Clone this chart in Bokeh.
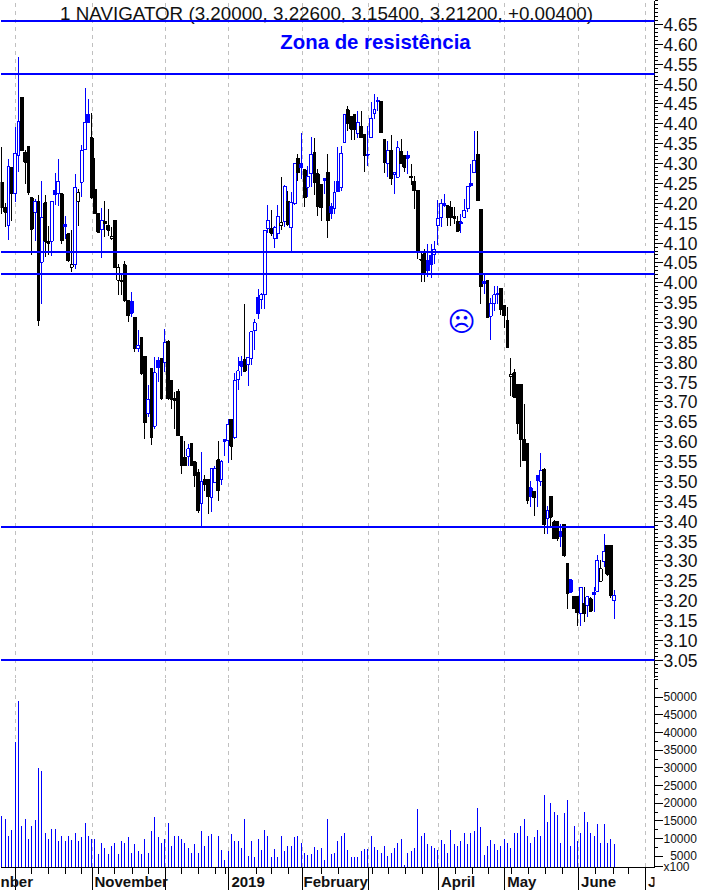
from bokeh.plotting import figure
from bokeh.layouts import column
from bokeh.models import Range1d, FixedTicker, PrintfTickFormatter, Span, Grid, ColumnDataSource
from bokeh.core.properties import value
from bokeh.embed import file_html
from bokeh.resources import INLINE

title_text = "1 NAVIGATOR (3.20000, 3.22600, 3.15400, 3.21200, +0.00400)"
zone_text = "Zona de resistência"

opens = [4.253,4.190,4.144,4.291,4.224,4.320,4.467,4.329,4.343,4.214,
4.178,4.205,4.052,4.201,4.105,4.105,4.232,4.224,4.224,4.147,
4.123,4.039,4.045,4.205,4.253,4.335,4.424,4.365,4.234,4.174,
4.133,4.154,4.144,4.111,4.158,4.007,4.007,4.045,3.955,3.953,
3.912,3.834,3.863,3.815,3.670,3.784,3.639,3.804,3.809,3.800,
3.853,3.754,3.708,3.726,3.613,3.560,3.564,3.595,3.549,3.522,
3.444,3.505,3.505,3.459,3.498,3.554,3.504,3.605,3.603,3.656,
3.610,3.756,3.802,3.807,3.794,3.810,3.879,3.964,3.958,3.970,
4.136,4.136,4.111,4.123,4.143,4.155,4.204,4.138,4.199,4.314,
4.299,4.285,4.241,4.274,4.327,4.274,4.247,4.262,4.277,4.193,
4.188,4.255,4.241,4.354,4.435,4.419,4.423,4.376,4.393,4.372,
4.324,4.365,4.425,4.459,4.456,4.361,4.301,4.333,4.272,4.266,
4.330,4.320,4.320,4.268,4.255,4.232,4.059,4.073,4.056,4.069,
4.070,4.143,4.165,4.199,4.194,4.190,4.167,4.155,4.153,4.165,
4.186,4.250,4.277,4.323,4.184,4.003,4.007,3.916,3.947,3.970,
3.985,3.944,3.905,3.765,3.773,3.743,3.744,3.606,3.595,3.484,
3.475,3.515,3.501,3.530,3.406,3.462,3.398,3.399,3.374,3.391,
3.293,3.252,3.211,3.211,3.167,3.192,3.188,3.205,3.221,3.224,
3.249,3.299,3.340,3.340,3.200]

closes = [4.190,4.178,4.293,4.224,4.325,4.407,4.333,4.304,4.226,4.135,
4.205,3.905,4.165,4.105,4.100,4.205,4.222,4.256,4.106,4.142,
4.056,4.045,4.239,4.226,4.333,4.404,4.404,4.215,4.175,4.127,
4.157,4.148,4.132,4.117,4.039,4.039,4.004,3.955,3.918,3.923,
3.834,3.842,3.771,3.649,3.706,3.610,3.773,3.786,3.708,3.849,
3.708,3.706,3.704,3.616,3.540,3.540,3.582,3.540,3.515,3.427,
3.501,3.492,3.461,3.532,3.532,3.476,3.550,3.601,3.643,3.589,
3.754,3.778,3.790,3.777,3.811,3.877,3.899,3.922,3.970,4.132,
4.157,4.125,4.140,4.167,4.151,4.243,4.147,4.203,4.299,4.278,
4.289,4.214,4.268,4.323,4.253,4.193,4.189,4.258,4.157,4.175,
4.226,4.230,4.326,4.423,4.402,4.387,4.386,4.404,4.366,4.320,
4.321,4.413,4.435,4.456,4.379,4.304,4.333,4.263,4.277,4.340,
4.299,4.291,4.314,4.265,4.232,4.080,4.057,4.023,4.031,4.046,
4.085,4.163,4.199,4.195,4.165,4.165,4.163,4.130,4.148,4.183,
4.243,4.245,4.309,4.207,3.991,3.997,3.913,3.947,3.970,3.972,
3.932,3.918,3.838,3.769,3.712,3.647,3.606,3.553,3.452,3.462,
3.460,3.502,3.528,3.392,3.427,3.410,3.356,3.356,3.362,3.314,
3.217,3.221,3.179,3.169,3.234,3.167,3.210,3.173,3.215,3.301,
3.280,3.324,3.266,3.213,3.212]

highs = [4.341,4.200,4.312,4.291,4.392,4.568,4.467,4.333,4.343,4.214,
4.211,4.221,4.255,4.220,4.142,4.207,4.277,4.312,4.226,4.169,
4.123,4.132,4.274,4.235,4.348,4.491,4.463,4.427,4.314,4.174,
4.189,4.207,4.186,4.140,4.158,4.048,4.023,4.056,3.955,3.978,
3.912,3.880,3.863,3.815,3.742,3.784,3.813,3.813,3.809,3.884,
3.855,3.754,3.725,3.733,3.613,3.603,3.593,3.595,3.549,3.532,
3.575,3.515,3.505,3.532,3.540,3.601,3.553,3.605,3.658,3.656,
3.773,3.813,3.815,3.947,3.811,3.877,3.908,3.985,3.975,4.132,
4.195,4.182,4.142,4.195,4.267,4.245,4.230,4.228,4.299,4.324,
4.377,4.285,4.295,4.366,4.365,4.287,4.247,4.262,4.324,4.200,
4.256,4.341,4.344,4.425,4.446,4.421,4.423,4.433,4.433,4.372,
4.394,4.456,4.475,4.467,4.456,4.361,4.356,4.371,4.279,4.356,
4.361,4.320,4.331,4.299,4.268,4.232,4.081,4.085,4.098,4.098,
4.104,4.209,4.210,4.224,4.194,4.207,4.190,4.169,4.173,4.211,
4.243,4.299,4.381,4.381,4.184,4.022,4.007,3.962,3.991,3.991,
3.985,3.944,3.939,3.811,3.783,3.743,3.744,3.694,3.595,3.500,
3.475,3.515,3.572,3.534,3.437,3.462,3.403,3.399,3.392,3.391,
3.293,3.252,3.211,3.211,3.234,3.234,3.210,3.210,3.234,3.314,
3.303,3.368,3.340,3.340,3.226]

lows = [4.174,4.140,4.108,4.155,4.203,4.278,4.333,4.249,4.222,4.069,
4.106,3.892,3.947,4.065,4.069,4.067,4.197,4.194,4.098,4.111,
4.052,4.027,4.035,4.144,4.217,4.333,4.404,4.211,4.174,4.127,
4.063,4.116,4.119,4.108,4.039,3.968,3.968,3.951,3.901,3.913,
3.825,3.825,3.767,3.607,3.662,3.591,3.632,3.750,3.706,3.775,
3.704,3.683,3.631,3.616,3.519,3.540,3.538,3.540,3.487,3.420,
3.385,3.476,3.417,3.424,3.498,3.450,3.492,3.565,3.546,3.554,
3.607,3.731,3.765,3.775,3.740,3.794,3.832,3.909,3.934,3.934,
4.126,4.117,4.087,4.109,4.132,4.140,4.144,4.077,4.197,4.256,
4.262,4.190,4.217,4.241,4.222,4.167,4.155,4.224,4.113,4.161,
4.172,4.228,4.232,4.354,4.383,4.360,4.360,4.365,4.365,4.278,
4.295,4.365,4.413,4.433,4.379,4.276,4.266,4.245,4.224,4.266,
4.299,4.278,4.274,4.245,4.186,4.060,4.001,4.001,4.014,4.012,
4.048,4.096,4.140,4.190,4.144,4.142,4.147,4.127,4.126,4.165,
4.178,4.242,4.277,4.205,3.947,3.972,3.913,3.855,3.930,3.947,
3.918,3.887,3.836,3.716,3.712,3.620,3.536,3.553,3.442,3.435,
3.412,3.435,3.488,3.368,3.368,3.389,3.356,3.350,3.336,3.309,
3.178,3.221,3.179,3.137,3.135,3.146,3.158,3.171,3.171,3.224,
3.249,3.284,3.262,3.206,3.154]

tones = list("kkbkbbkkkk" "bkbkkbbbkb" "kkbkbbbkkk" "bkkkkkkkkb" "kbkkbkbbkb"
             "kkkkkkbkkk" "bkkbbkbbbk" "bbbkbbbbbb" "bkbbkbkbbk" "bkbbkkkbkb"
             "bbbbkkkbkk" "bbbbkkbkbb" "kkbkkkkkbb" "bbbbkkkkbb" "bbbkkbkbbb"
             "kkkkkkkkkb" "kbbkbkkkbk" "kbkkbkbkbb" "kbkkb")

volumes = [16240,15390,10580,12280,37460,49060,13690,15390,9730,13690,
15110,30100,29250,11710,9730,12840,12560,9170,10860,9170,
10860,9450,11710,9170,10300,14540,10860,9730,9730,5490,
8880,7190,5490,8030,8600,5490,9170,8880,10300,5770,
8320,6340,5490,9730,6050,12000,15960,10300,8880,9730,
14540,7750,10860,10580,9730,8880,7190,6050,8320,5770,
12000,8030,10860,11150,1800,10860,6620,3790,6340,11150,
9170,9170,7190,15390,4920,9170,4640,9730,6620,12280,
10580,4640,6900,4640,10580,6340,7750,7750,10300,10860,
8600,6050,5210,5490,7470,6620,7190,3790,15670,5490,
6050,9170,10860,11430,6620,4640,4640,4640,6340,6900,
6900,10860,7470,6620,6050,8030,4920,6050,7190,8880,
9730,2380,5770,6340,7190,18500,10860,11710,8320,8030,
7190,6620,9450,8320,6050,12280,8320,8030,9170,11710,
8320,11710,12000,18780,13130,5210,8030,9450,8320,6620,
8030,9730,8880,7190,11430,11430,13410,15390,10860,8600,
10300,12280,10860,22460,14820,19920,17650,16800,8880,17090,
20770,8030,13410,9170,11710,17650,14820,11430,10860,13980,
8880,13980,8600,9730,8320]

month_starts = [4.0, 27.15, 49.3, 68.2, 90.3, 110.3, 131.3, 151.1, 173.4, 193.6]
week_ticks = [9, 14.1, 19.2, 24, 29.2, 34, 39.4, 44.2, 54.1, 59.2, 64.3, 67.3, 76.4, 81.2, 86.3,
              96.2, 101.3, 111.5, 116.3, 121.4, 126.3, 136.5, 141.6, 146.4, 153.3, 158.4,
              163.5, 168.6, 178.3, 183.7, 188.5]
month_labels = ["nber", "November", "2019", "February", "April", "May", "June", "J"]
month_label_pos = [-0.4, 27.85, 69, 90.7, 132, 151.9, 174.1, 194.2]

levels = [4.659, 4.526, 4.078, 4.0225, 3.386, 3.051]
price_ticks = [3.05, 3.10, 3.15, 3.20, 3.25, 3.30, 3.35, 3.40, 3.45, 3.50, 3.55, 3.60, 3.65,
               3.70, 3.75, 3.80, 3.85, 3.90, 3.95, 4.00, 4.05, 4.10, 4.15, 4.20, 4.25, 4.30,
               4.35, 4.40, 4.45, 4.50, 4.55, 4.60, 4.65]
volume_ticks = [5000, 10000, 15000, 20000, 25000, 30000, 35000, 40000, 45000, 50000]
multiplier_tick = 2000
multiplier_label = "x100"
volume_base = 1717

BLUE = "#0000ff"
GRID = "#c0c0c0"
FONT = "Liberation Sans"

idx = list(range(len(closes)))
colors = [BLUE if t == "b" else "#000000" for t in tones]
fills = ["#ffffff" if c > o else col for o, c, col in zip(opens, closes, colors)]
src = ColumnDataSource(dict(x=idx, o=opens, h=highs, l=lows, c=closes, col=colors, fill=fills,
                            top=[max(a, b) for a, b in zip(opens, closes)],
                            bot=[min(a, b) for a, b in zip(opens, closes)]))
x_range = Range1d(-0.40, 196.17)


def base_figure(height, y_range):
    f = figure(width=702, height=height, frame_width=654, frame_height=height,
               x_range=x_range, y_range=y_range, output_backend="svg", toolbar_location=None,
               x_axis_location=None, y_axis_location="right",
               min_border=0, min_border_left=0, min_border_right=48, min_border_top=0, min_border_bottom=0,
               outline_line_color=None, background_fill_color="#ffffff", border_fill_color="#ffffff",
               styles={"shape-rendering": "crispEdges"})
    f.xgrid.visible = False
    f.ygrid.visible = False
    g = Grid(dimension=0, ticker=FixedTicker(ticks=month_starts), grid_line_color=GRID,
             grid_line_dash="4 4", grid_line_width=1)
    f.add_layout(g)
    a = f.yaxis[0]
    a.axis_line_color = "#000000"
    a.major_tick_line_color = "#000000"
    a.minor_tick_line_color = "#000000"
    a.major_tick_in = 0
    a.minor_tick_in = 0
    a.major_label_standoff = 1
    return f, a


price_fig, pa = base_figure(678, Range1d(3.0040, 4.7105))
pa.ticker = FixedTicker(ticks=price_ticks, minor_ticks=[round(3.00 + 0.01 * k, 2) for k in range(172)])
pa.formatter = PrintfTickFormatter(format="%.2f")
pa.major_tick_out = 8
pa.minor_tick_out = 3
pa.major_label_text_font = FONT
pa.major_label_text_font_size = "17.5px"
pa.major_label_text_color = "#111111"

price_fig.segment("x", "h", "x", "l", source=src, line_color="col", line_width=1)
price_fig.vbar("x", 0.85, "top", "bot", source=src, fill_color="fill", line_color="col", line_width=1)

price_fig.text([97.6], [4.678], text=[title_text], text_font=value(FONT), text_font_size="18.8px",
               text_align="center", text_baseline="middle", text_color="#111111")
price_fig.text([112.3], [4.6073], text=[zone_text], text_font=value(FONT), text_font_size="20.4px",
               text_font_style="bold", text_align="center", text_baseline="middle", text_color=BLUE)
price_fig.text([138.2], [3.9025], text=["\u2639"], text_font=value("DejaVu Sans"), text_font_size="27px",
               text_align="center", text_baseline="middle", text_color=BLUE)
for lv in levels:
    price_fig.add_layout(Span(location=lv, dimension="width", line_color=BLUE, line_width=2))

vol_fig, va = base_figure(212, Range1d(-4704, 55292))
va.ticker = FixedTicker(ticks=[multiplier_tick] + volume_ticks, minor_ticks=[2500 * k for k in range(2, 23)])
va.formatter = PrintfTickFormatter(format="%d")
va.major_label_overrides = {multiplier_tick: multiplier_label, 5000: "\u20075000"}
va.bounds = (volume_base, 55292)
va.major_tick_out = 8
va.minor_tick_out = 3
va.major_label_text_font = FONT
va.major_label_text_font_size = "12px"
va.major_label_text_color = "#111111"

vol_fig.segment(idx, [volume_base] * len(idx), idx, volumes, line_color=BLUE, line_width=1)
vol_fig.add_layout(Span(location=volume_base, dimension="width", line_color="#000000", line_width=1))
vol_fig.segment(month_starts, [volume_base] * len(month_starts), month_starts, [-4704] * len(month_starts),
                line_color="#000000", line_width=1)
vol_fig.segment(week_ticks, [volume_base] * len(week_ticks), week_ticks, [0] * len(week_ticks),
                line_color="#000000", line_width=1)
vol_fig.text(month_label_pos, [-2200] * len(month_labels), text=month_labels, text_font=value(FONT),
             text_font_size="15px", text_font_style="bold", text_align="left", text_baseline="middle",
             text_color="#111111")

page = column(price_fig, vol_fig, spacing=0)
open("out.html", "w").write(file_html(page, INLINE))
